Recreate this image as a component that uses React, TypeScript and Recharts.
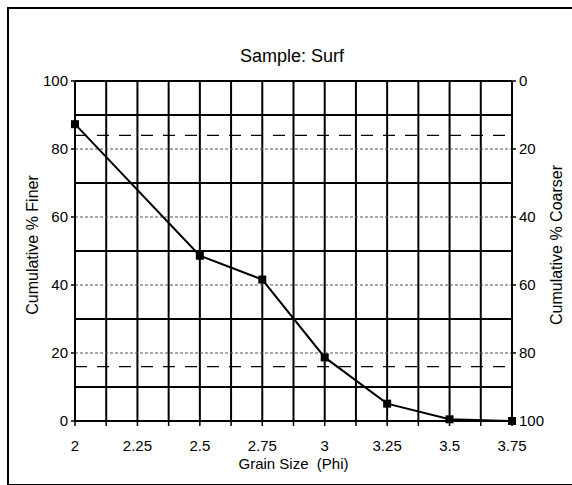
import React from 'react';
import {
  LineChart,
  Line,
  XAxis,
  YAxis,
  ReferenceLine,
  Label
} from 'recharts';

// grain size (phi) vs cumulative % finer / coarser
const grainSize = [2, 2.5, 2.75, 3, 3.25, 3.5, 3.75];
const pctFiner = [87.3, 48.6, 41.6, 18.7, 5.1, 0.5, 0];
const pctCoarser = [12.7, 51.4, 58.4, 81.3, 94.9, 99.5, 100];

const xTicks = [2, 2.125, 2.25, 2.375, 2.5, 2.625, 2.75, 2.875, 3, 3.125, 3.25, 3.375, 3.5, 3.625, 3.75];
const xGrid = [2.125, 2.25, 2.375, 2.5, 2.625, 2.75, 2.875, 3, 3.125, 3.25, 3.375, 3.5, 3.625];
const finerTicks = [0, 20, 40, 60, 80, 100];
const coarserTicks = [0, 20, 40, 60, 80, 100];
const solidRows = [10, 30, 50, 70, 90, 100];
const dottedRows = [20, 40, 60, 80];
const dashedRows = [16, 84];

const data = grainSize.map((phi, i) => ({ phi, finer: pctFiner[i], coarser: pctCoarser[i] }));

const FONT = '"Liberation Sans", Arial, Helvetica, sans-serif';

const BottomTick = (props: any) => {
  const { x, y, payload } = props;
  if (payload.value % 0.25 !== 0) return <g />;
  return (
    <text x={x} y={y} dy="0.71em" textAnchor="middle" fill="#000" fontSize={15} fontFamily={FONT}>
      {payload.value}
    </text>
  );
};

const SquareDot = (props: any) => {
  const { cx, cy, index } = props;
  return <rect key={`dot-${index}`} x={cx - 4} y={cy - 4} width={8} height={8} fill="#000" />;
};

const sideLabel = (text: string, dx: number) => ({ viewBox }: any) => {
  const cx = viewBox.x + dx;
  const cy = viewBox.y + viewBox.height / 2 - 6;
  return (
    <text
      x={cx}
      y={cy}
      transform={`rotate(-90 ${cx} ${cy})`}
      textAnchor="middle"
      dominantBaseline="middle"
      fill="#000"
      fontSize={16}
      fontFamily={FONT}
    >
      {text}
    </text>
  );
};

export default function App() {
  return (
    <div style={{ position: 'absolute', left: 0, top: 0, width: 572, height: 485, background: '#fff', fontFamily: FONT }}>
      <div
        style={{
          position: 'absolute',
          left: 7,
          top: 7,
          width: 570,
          height: 475,
          borderTop: '2px solid #000',
          borderLeft: '2px solid #000',
          borderBottom: '2px solid #000'
        }}
      />
      <div
        style={{
          position: 'absolute',
          left: 0,
          width: 584,
          top: 45,
          textAlign: 'center',
          fontSize: 18,
          lineHeight: '22px',
          color: '#000'
        }}
      >
        Sample: Surf
      </div>
      <div style={{ position: 'absolute', left: 0, top: 0 }}>
        <LineChart
          width={572}
          height={485}
          data={data}
          margin={{ top: 81, right: 0, bottom: 34, left: 15 }}
        >
          <XAxis
            dataKey="phi"
            type="number"
            domain={[2, 3.75]}
            ticks={xTicks}
            interval={0}
            height={30}
            tick={<BottomTick />}
            tickSize={5}
            tickMargin={14}
            axisLine={{ stroke: '#000', strokeWidth: 2 }}
            tickLine={{ stroke: '#000', strokeWidth: 1.5 }}
          >
            <Label
              content={({ viewBox }: any) => (
                <text
                  x={viewBox.x + viewBox.width / 2}
                  y={viewBox.y + 48}
                  textAnchor="middle"
                  fill="#000"
                  fontSize={15}
                  fontFamily={FONT}
                  style={{ whiteSpace: 'pre' }}
                >
                  {'Grain Size  (Phi)'}
                </text>
              )}
            />
          </XAxis>
          <YAxis
            yAxisId="left"
            type="number"
            domain={[0, 100]}
            ticks={finerTicks}
            width={60}
            tickSize={4}
            tickMargin={3}
            tick={{ fill: '#000', fontSize: 15, fontFamily: FONT }}
            axisLine={{ stroke: '#000', strokeWidth: 2 }}
            tickLine={{ stroke: '#000', strokeWidth: 1.5 }}
          >
            <Label content={sideLabel('Cumulative % Finer', 19)} />
          </YAxis>
          <YAxis
            yAxisId="right"
            orientation="right"
            type="number"
            domain={[0, 100]}
            reversed
            ticks={coarserTicks}
            width={60}
            tickSize={4}
            tickMargin={3}
            tick={{ fill: '#000', fontSize: 15, fontFamily: FONT }}
            axisLine={{ stroke: '#000', strokeWidth: 2 }}
            tickLine={{ stroke: '#000', strokeWidth: 1.5 }}
          >
            <Label content={sideLabel('Cumulative % Coarser', 46)} />
          </YAxis>

          {xGrid.map((v) => (
            <ReferenceLine key={`vx-${v}`} x={v} yAxisId="left" stroke="#000" strokeWidth={2} />
          ))}
          {solidRows.map((v) => (
            <ReferenceLine key={`hs-${v}`} y={v} yAxisId="left" stroke="#000" strokeWidth={2} />
          ))}
          {dottedRows.map((v) => (
            <ReferenceLine key={`hd-${v}`} y={v} yAxisId="left" stroke="#555" strokeWidth={1} strokeDasharray="3 2" />
          ))}
          {dashedRows.map((v) => (
            <ReferenceLine key={`hx-${v}`} y={v} yAxisId="left" stroke="#000" strokeWidth={1.2} strokeDasharray="12 10" />
          ))}

          <Line
            yAxisId="right"
            dataKey="coarser"
            type="linear"
            stroke="none"
            dot={false}
            activeDot={false}
            legendType="none"
            isAnimationActive={false}
          />
          <Line
            yAxisId="left"
            dataKey="finer"
            type="linear"
            stroke="#000"
            strokeWidth={2}
            dot={<SquareDot />}
            activeDot={false}
            isAnimationActive={false}
          />
        </LineChart>
      </div>
    </div>
  );
}
